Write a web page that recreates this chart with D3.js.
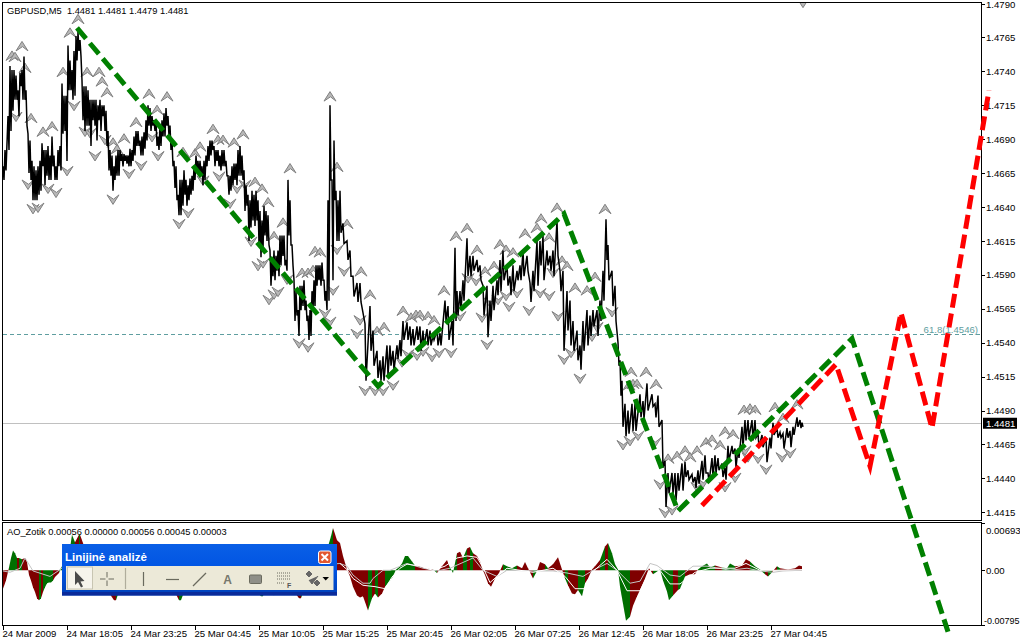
<!DOCTYPE html>
<html><head><meta charset="utf-8">
<script src="https://cdn.jsdelivr.net/npm/d3@7/dist/d3.min.js"></script>
<style>
html,body{margin:0;padding:0;background:#fff;overflow:hidden}
svg{display:block}
text{font-family:"Liberation Sans",sans-serif;font-size:9.6px;fill:#000}
</style></head><body><svg id="c" width="1020" height="643"></svg>
<script>
// ---- data (prices are pips above 1.4400, bars are 5-minute bar numbers) ----
const priceBars=[3,5,8,10,12,14,16,18,20,22,24,26,28,30,32,34,36,38,40,42,44,46,48,50,52,54,56,58,60,62,64,66,68,70,72,74,76,78,80,82,84,86,88,90,92,94,96,98,100,102,104,106,108,110,112,114,116,118,120,122,124,126,128,130,132,134,136,138,140,142,144,146,148,150,152,154,156,158,160,162,164,166,168,170,172,174,176,178,180,182,184,186,188,190,192,194,196,198,200,202,204,206,208,210,212,214,216,218,220,222,224,226,228,230,232,234,236,238,240,242,244,246,248,250,252,254,256,258,260,262,264,266,268,270,272,274,276,278,280,282,284,286,288,290,292,294,296,298,300,302,304,306,308,310,312,314,316,318,320,322,324,326,328,330,332,334,336,338,340,
343,347,350,353,357,360,365,370,373,377,380,383,387,390,393,397,400,403,407,410,413,417,420,423,427,430,433,437,440,445,448,452,455,457,460,463,467,470,473,477,480,483,487,490,493,497,500,503,507,510,513,517,520,523,527,530,533,537,540,543,547,550,553,557,560,563,567,570,573,577,580,583,587,590,593,597,600,603,606,608,612,615,618,620,622,625,628,632,635,640,643,647,652,655,658,662,665,668,672,675,678,682,685,688,692,695,698,702,705,708,712,715,718,722,725,728,732,735,738,742,745,748,752,755,758,762,766,770,773,777,780,783,787,790,793,797,800,802];
const highPips=[270,282,307,344,341,341,337,326,339,341,351,326,294,289,274,270,267,270,274,287,282,282,285,278,292,278,270,282,285,331,322,322,359,348,341,355,366,369,363,333,329,329,326,319,319,319,319,315,319,315,315,311,296,282,278,270,278,282,282,279,279,278,278,283,282,292,296,296,289,292,295,304,315,313,307,304,304,292,300,304,309,313,307,300,289,274,270,249,260,260,267,260,256,261,263,270,278,274,274,270,274,278,285,289,289,285,282,282,278,282,282,274,263,263,270,272,272,282,285,278,267,256,249,245,252,249,252,245,237,230,241,237,234,208,201,208,204,208,219,219,219,201,260,245,212,186,178,164,182,182,186,171,160,164,178,186,197,197,197,199,186,178,245,315,260,289,252,245,252,
228,215,208,189,184,184,154,167,149,134,127,130,138,138,134,138,142,156,155,152,150,152,152,149,150,149,145,149,147,171,167,156,210,178,178,186,217,204,204,201,197,182,182,171,182,186,201,208,197,189,197,193,197,208,204,184,193,215,215,219,208,204,208,230,193,193,178,171,156,149,138,156,164,160,164,164,171,193,231,212,193,182,140,127,112,95,90,95,95,102,97,110,102,95,101,83,53,44,44,44,44,51,52,46,43,41,46,53,57,44,55,57,55,51,48,64,64,62,62,78,83,83,83,83,73,72,70,70,81,77,74,73,77,75,78,85,83,81];
const lowPips=[260,267,282,296,311,319,319,307,329,319,319,300,265,260,245,245,245,249,252,270,256,263,260,260,270,260,260,270,267,294,296,274,326,326,319,322,348,355,351,304,296,300,300,285,304,300,289,304,296,307,296,285,267,263,252,260,263,263,274,270,274,272,270,270,274,278,285,285,278,278,283,289,300,296,300,296,285,282,285,292,292,300,292,282,270,254,245,234,234,241,249,241,245,249,252,260,267,263,265,256,260,270,274,278,282,270,274,270,267,270,270,263,249,252,256,260,256,263,263,260,237,241,215,225,230,226,230,212,203,208,219,215,212,182,189,186,193,189,197,204,197,193,219,212,197,156,160,145,164,167,164,156,142,145,164,167,182,186,182,186,171,164,171,260,186,245,215,215,221,
213,201,189,174,170,170,112,134,123,114,112,112,116,123,120,128,130,142,142,138,138,142,134,138,138,138,142,138,138,156,142,138,156,160,164,171,189,189,193,192,186,160,144,156,164,175,178,186,182,175,178,186,186,189,193,170,178,182,197,186,197,193,189,204,178,134,149,138,134,127,120,134,138,145,152,145,156,171,201,186,167,156,123,101,78,71,73,75,75,85,84,90,93,85,78,48,19,29,29,24,31,31,41,39,37,33,36,39,44,37,41,44,46,41,39,53,58,48,55,63,68,70,68,70,63,63,52,62,72,70,70,62,70,63,72,78,77,78];

const upBars=[12,15,22,25,31,43,52,63,70,78,87,99,102,107,113,117,124,136,149,157,167,183,195,200,213,218,223,234,243,255,262,268,274,283,290,302,308,313,315,320,330,337,347,361,370,377,384,403,411,416,420,428,434,444,456,467,477,485,494,500,506,513,525,537,541,549,557,562,567,575,587,595,605,631,646,656,633,629,637,668,677,685,690,697,706,712,720,725,733,744,750,755,775,783,797];
const upPips=[351,350,358,342,305,295,299,339,368,378,339,339,332,324,287,282,290,302,323,311,321,280,279,284,297,289,289,287,293,258,253,243,218,228,268,191,191,193,207,206,321,269,227,192,175,148,151,163,158,160,160,159,156,178,218,224,208,192,196,212,208,206,220,224,231,217,239,200,196,180,178,188,238,118,118,109,109,108,109,54,56,60,55,60,66,68,64,74,72,90,91,90,92,84,94];
const downBars=[16,28,33,38,48,56,67,74,85,90,95,105,113,129,141,152,158,179,188,203,219,230,237,245,251,258,263,269,274,278,287,299,308,325,330,333,337,344,357,360,365,375,383,393,402,408,417,423,432,439,451,460,468,476,482,487,490,498,506,509,517,529,540,549,553,558,564,571,580,592,597,612,623,630,638,655,660,665,672,697,703,725,735,745,748,758,766,782,790,803];
const downPips=[307,257,239,240,254,251,267,315,296,295,278,290,246,265,271,292,278,228,236,260,263,243,254,257,215,197,199,172,176,178,187,140,137,162,156,179,209,193,147,157,105,105,105,109,126,132,131,134,130,133,133,160,188,186,159,139,170,172,175,167,177,164,177,175,192,160,128,133,114,145,152,163,65,68,72,67,36,15,17,34,37,34,41,61,56,55,47,56,59,391];

const greenBars=[77,378,564,678,852,948];
const greenPips=[372,108,235,16,143,-73];
const redBars=[702,836,870,901,932,989];
const redPips=[20,124,49,162,77,326];

const aoBars=[3,6,9,11,13,15,17,19,22,25,27,29,31,33,35,37,39,41,43,45,47,49,51,53,55,57,59,61,66,70,72,75,79,80,83,86,90,95,100,105,110,114,116,118,122,128,134,140,146,152,158,164,170,176,179,181,184,190,196,205,215,225,235,245,255,261,263,266,272,274,277,285,292,297,299,301,304,310,316,322,328,331,333,335,337,340,343,347,350,353,357,360,363,368,372,375,378,382,385,390,393,396,398,402,405,408,412,415,420,425,433,437,442,447,449,453,457,460,463,467,470,473,477,480,482,485,488,491,495,499,503,507,512,517,522,525,528,533,537,540,545,548,553,558,562,565,568,572,575,578,582,585,588,592,595,600,605,608,612,615,618,620,623,626,630,633,637,640,645,649,653,656,660,663,667,669,673,678,680,685,690,695,698,702,707,710,715,722,727,730,735,742,746,750,755,760,765,768,772,777,780,788,795,799,802];
const aoValues=[-27,-15,4,18,29,25,18,18,16,18,12,-7,-15,-25,-32,-41,-44,-41,-32,-25,-19,-18,-18,-15,-10,-7,-4,3,18,32,52,41,52,52,40,27,12,3,-12,-24,-35,-44,-44,-35,-22,-9,6,15,21,12,4,-9,-22,-35,-44,-44,-32,-15,6,21,18,7,-7,-21,-29,-38,-38,-22,-32,-37,-22,-12,-24,-37,-41,-41,-29,-12,9,24,35,50,62,53,44,40,21,1,-9,-24,-37,-40,-38,-59,-41,-34,-40,-34,-24,-15,-9,1,3,10,21,21,13,7,6,3,1,-4,6,15,7,-4,25,27,18,32,34,25,21,13,3,-7,-19,-24,-12,-4,9,6,3,7,3,12,3,-12,-1,12,9,3,9,19,1,-12,-22,-34,-35,-29,-38,-19,-12,1,6,15,35,40,25,9,1,-24,-49,-74,-68,-52,-38,-29,-12,3,-6,-3,1,-15,-31,-44,-37,-29,-27,-9,-6,-6,1,6,10,4,7,4,3,10,6,7,16,13,6,1,-6,-9,-3,6,3,1,3,7,6];
const aoColors="r r g g g g r g r r r r r r r r g r g g g g g r r r g g g g g r g r r r r r r r r r g g g g g g r r r r r r g g g g g r r r r g g g g g r r g g r r r g g g g g g g r r r r r r r r r r r g r g r r g g g g g g g g g r r r g r r r g g r r g r g r r r r r r r r r g g g r r r r g r r g r r r r g r r r g g r r r r g r g g g g g g g r r r r r r g g g g g g r g g r r r g g g g r g g g r r r g g g r g r g r r r r r g g r g g g r".split(" ");
const signalBars=[3,10,20,25,33,50,62,90,115,150,190,230,270,310,340,347,353,363,370,373,383,390,407,423,437,450,473,483,497,507,533,553,567,583,593,607,617,630,640,650,657,670,680,693,707,730,747,760,773,783,802];
const signalValues=[-1,-3,3,18,-1,-9,3,6,-12,8,-6,4,-8,6,10,6,-7,-19,-19,-12,0,0,10,3,-1,3,18,0,-9,0,-1,-1,-4,-9,0,10,0,-19,-16,10,7,-7,-9,6,6,0,3,-1,-3,-1,0];
const lineBars=[340,347,353,363,375,385,392,400,407,420,433,445,457,467,477,483,490,497,507,533,553,565,575,585,592,607,617,627,640,650,660,670,680,695,710,735,746,760,775,802];
const lineValues=[10,1,-12,-22,-24,-27,-10,3,9,6,0,6,18,21,19,4,-18,-9,3,-3,3,-9,-27,-27,-3,16,0,-30,-30,0,0,-20,-20,-3,3,3,10,0,0,1];

const priceTicks=[1.4790,1.4765,1.4740,1.4715,1.4690,1.4665,1.4640,1.4615,1.4590,1.4565,1.4540,1.4515,1.4490,1.4465,1.4440,1.4415];
const aoTicks=[0.00693,0,-0.00795];
const aoTickLabels=["0.00693","0.00","-0.00795"];
const timeTicks=[3,67,131,195,259,323,387,451,515,579,643,707,771];
const timeLabels=["24 Mar 2009","24 Mar 18:05","24 Mar 23:25","25 Mar 04:45","25 Mar 10:05","25 Mar 15:25","25 Mar 20:45","26 Mar 02:05","26 Mar 07:25","26 Mar 12:45","26 Mar 18:05","26 Mar 23:25","27 Mar 04:45"];
const currentPrice=1.4481, fiboPrice=1.4546;

// ---- layout ----
const L=2.5,R=981.5,T=2.5,B=520.5,T2=522.5,B2=625.5;
const svg=d3.select("#c");
const x=d3.scaleLinear().domain([3,771]).range([3,771]);
const y=d3.scaleLinear().domain([1.4415,1.4790]).range([512.3,3.5]);
const yp=p=>y(1.44+p/10000);
const ya=d3.scaleLinear().domain([-0.00795,0.00693]).range([624.5,523]);
const ao=v=>ya(v/10000);

const defs=svg.append("defs");
defs.append("clipPath").attr("id","mainClip").append("rect").attr("x",L).attr("y",T).attr("width",R-L).attr("height",B-T);
defs.append("clipPath").attr("id","subClip").append("rect").attr("x",L).attr("y",T2).attr("width",R-L).attr("height",B2-T2);

// histogram: each bar's segment runs to the next read value
const sub=svg.append("g").attr("clip-path","url(#subClip)");
const seg=d3.area().x(d=>x(d[0])).y0(ya(0)).y1(d=>ao(d[1]));
sub.selectAll("path.h").data(aoBars.slice(0,-1)).join("path").attr("class","h")
 .attr("d",(d,i)=>seg([[d,aoValues[i]],[aoBars[i+1],aoValues[i+1]]]))
 .attr("fill",(d,i)=>aoColors[i]==="g"?"#006f00":"#7f0000");
sub.append("path").attr("d",d3.line().x(d=>x(d[0])).y(d=>ao(d[1]))(signalBars.map((b,i)=>[b,signalValues[i]])))
 .attr("fill","none").attr("stroke","#c4c4c4").attr("stroke-width",1);
sub.append("path").attr("d",d3.line().x(d=>x(d[0])).y(d=>ao(d[1]))(lineBars.map((b,i)=>[b,lineValues[i]])))
 .attr("fill","none").attr("stroke","#fff").attr("stroke-width",1);

// main panel
const main=svg.append("g").attr("clip-path","url(#mainClip)");
main.append("line").attr("x1",L).attr("x2",R).attr("y1",y(fiboPrice)).attr("y2",y(fiboPrice))
 .attr("stroke","#5f9ea0").attr("stroke-dasharray","4 3").attr("shape-rendering","crispEdges");
main.append("line").attr("x1",L).attr("x2",R).attr("y1",y(currentPrice)+.5).attr("y2",y(currentPrice)+.5)
 .attr("stroke","#c0c0c0").attr("shape-rendering","crispEdges");

const upShape="M0,-5.5L6,4L0.5,-0.3L-6,4Z", downShape="M0,5.5L6,-4L0.5,0.3L-6,-4Z";
main.selectAll(".up").data(upBars).join("path").attr("class","up").attr("d",upShape)
 .attr("transform",(d,i)=>`translate(${x(d)},${yp(upPips[i])})`)
 .attr("fill","#b8b8b8").attr("stroke","#808080").attr("stroke-width",1);
main.selectAll(".down").data(downBars).join("path").attr("class","down").attr("d",downShape)
 .attr("transform",(d,i)=>`translate(${x(d)},${yp(downPips[i])})`)
 .attr("fill","#b8b8b8").attr("stroke","#808080").attr("stroke-width",1);

const zig=[];
priceBars.forEach((b,i)=>{zig.push([x(b),yp(highPips[i])]);zig.push([x(b)+1,yp(lowPips[i])]);});
main.append("path").attr("d",d3.line()(zig)).attr("fill","none").attr("stroke","#000").attr("stroke-width",1.5);

// axes frame
svg.append("rect").attr("x",L).attr("y",T).attr("width",R-L).attr("height",B-T).attr("fill","none").attr("stroke","#000").attr("shape-rendering","crispEdges");
svg.append("rect").attr("x",L).attr("y",T2).attr("width",R-L).attr("height",B2-T2).attr("fill","none").attr("stroke","#000").attr("shape-rendering","crispEdges");

const gy=svg.append("g").attr("transform",`translate(${R},0)`).call(d3.axisRight(y).tickValues(priceTicks).tickFormat(d3.format(".4f")).tickSize(3).tickPadding(1.5));
gy.selectAll(".tick text").attr("dy",(d,i)=>i===0?"0.42em":"0.32em");
const ga=svg.append("g").attr("transform",`translate(${R},0)`).call(d3.axisRight(ya).tickValues(aoTicks).tickFormat((d,i)=>aoTickLabels[i]).tickSize(3).tickPadding(1.5));
ga.selectAll(".tick text").attr("dy",(d,i)=>i===0?"1.05em":i===2?"-0.15em":"0.32em");
ga.selectAll(".tick text").filter((d,i)=>i===2).attr("x",2.5).style("font-size","9px");
const gx=svg.append("g").attr("transform",`translate(0,${B2})`).call(d3.axisBottom(x).tickValues(timeTicks).tickFormat((d,i)=>timeLabels[i]).tickSize(4).tickPadding(1));
gx.selectAll(".tick text").attr("text-anchor","start").attr("dx",-1);
[gy,ga,gx].forEach(g=>{g.select(".domain").remove();g.attr("font-family",null).attr("font-size",null);g.selectAll("line").attr("shape-rendering","crispEdges");});

// current price box
svg.append("rect").attr("x",983).attr("y",y(currentPrice)-5).attr("width",34).attr("height",11).attr("fill","#000");
svg.append("text").attr("x",986).attr("y",y(currentPrice)+4).style("fill","#fff").text("1.4481");

// fibo label
svg.append("text").attr("x",978).attr("y",y(fiboPrice)-2).attr("text-anchor","end").style("fill","#5f9ea0").text("61.8(1.4546)");

// dashed wave lines
const wave=d3.line().x(d=>x(d[0])).y(d=>yp(d[1]));
svg.append("path").attr("d",wave(greenBars.map((b,i)=>[b,greenPips[i]]))).attr("fill","none").attr("stroke","#008000").attr("stroke-width",5).attr("stroke-dasharray","14 6");
svg.append("path").attr("d",wave(redBars.map((b,i)=>[b,redPips[i]]))).attr("fill","none").attr("stroke","#ff0000").attr("stroke-width",5).attr("stroke-dasharray","14 6");

// panel captions
svg.append("text").attr("x",7).attr("y",14).attr("xml:space","preserve").style("font-size","9.3px").text("GBPUSD,M5  1.4481 1.4481 1.4479 1.4481");
svg.append("text").attr("x",7).attr("y",535).style("font-size","9.3px").text("AO_Zotik 0.00056 0.00000 0.00056 0.00045 0.00003");

// floating toolbar
const tb=svg.append("g");
const grad=defs.append("linearGradient").attr("id","tg").attr("x1",0).attr("x2",0).attr("y1",0).attr("y2",1);
[[0,"#0a5fe6"],[.5,"#0054e3"],[1,"#0040b8"]].forEach(s=>grad.append("stop").attr("offset",s[0]).attr("stop-color",s[1]));
tb.append("rect").attr("x",62).attr("y",544).attr("width",275).attr("height",51.5).attr("fill","url(#tg)");
tb.append("rect").attr("x",62).attr("y",592).attr("width",275).attr("height",3.5).attr("fill","#0a2a9a");
tb.append("text").attr("x",65).attr("y",561).style("fill","#fff").style("font-weight","700").style("font-size","11.5px").text("Linijinė analizė");
tb.append("rect").attr("x",318.5).attr("y",551).attr("width",12.5).attr("height",12.5).attr("rx",2).attr("fill","#e2572f").attr("stroke","#fff");
tb.append("path").attr("d","M321.5,554L328,560.5M328,554L321.5,560.5").attr("stroke","#fff").attr("stroke-width",2);
tb.append("rect").attr("x",66).attr("y",566).attr("width",267.5).attr("height",24).attr("fill","#ece9d8");
tb.append("rect").attr("x",67.5).attr("y",567).attr("width",25).attr("height",22).attr("fill","#f6f4ec").attr("stroke","#c8c5b2");
tb.append("path").attr("d","M75,571L75,585L78,582L81,587.5L83,586.5L80.5,581.5L84.5,581Z").attr("fill","#4a4a4a");
const ic="#6a6a5e";
tb.append("path").attr("d","M100,579H114M107,572V586").attr("stroke",ic).attr("fill","none").attr("stroke-dasharray","5.5 3");
tb.append("line").attr("x1",125.5).attr("x2",125.5).attr("y1",568).attr("y2",589).attr("stroke","#b0ad9c").attr("stroke-width",1.2);
tb.append("line").attr("x1",143.5).attr("x2",143.5).attr("y1",572).attr("y2",586).attr("stroke",ic).attr("stroke-width",1.2);
tb.append("line").attr("x1",166).attr("x2",179).attr("y1",579.5).attr("y2",579.5).attr("stroke",ic).attr("stroke-width",1.2);
tb.append("line").attr("x1",193).attr("x2",206).attr("y1",586).attr("y2",573).attr("stroke",ic).attr("stroke-width",1.2);
tb.append("text").attr("x",227.5).attr("y",584).attr("text-anchor","middle").style("font-weight","700").style("font-size","12px").style("fill","#77776c").text("A");
tb.append("rect").attr("x",249.5).attr("y",575).attr("width",12).attr("height",8.5).attr("rx",1).attr("fill","#8f8f88").attr("stroke","#6a6a5e");
tb.append("path").attr("d","M277,573H290M277,576H290M277,579H290M277,583H285").attr("stroke",ic).attr("stroke-dasharray","1 1").attr("fill","none");
tb.append("text").attr("x",287).attr("y",588).style("font-weight","700").style("font-size","7px").style("fill","#555").text("F");
tb.append("path").attr("d","M306,574L309,571L312,574L309,577ZM314,583L317,580L320,583L317,586ZM309,580L312,584L318,576").attr("fill","#666").attr("stroke","#666");
tb.append("path").attr("d","M322.5,577H329L325.7,580.5Z").attr("fill","#000");
</script></body></html>
